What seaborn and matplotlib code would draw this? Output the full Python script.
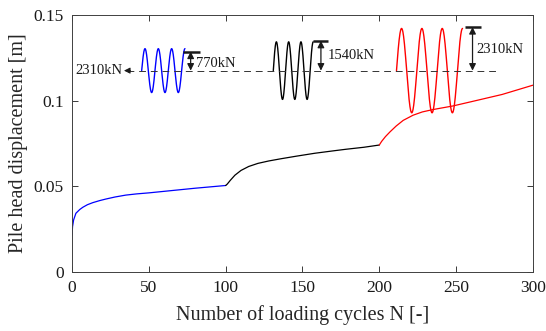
import numpy as np
import pandas as pd
import matplotlib
matplotlib.use("Agg")
import matplotlib.pyplot as plt
import seaborn as sns

# pile head displacement, one list per load stage
blue_N = [0, 0.3, 1, 2.5, 5, 7, 10, 13.5, 18, 22, 28, 35, 42, 50, 60, 70, 80, 90, 100]
blue_y = [0.0216, 0.0265, 0.0304, 0.0343, 0.0365, 0.0378, 0.0393, 0.0405, 0.0417,
          0.0426, 0.0438, 0.0449, 0.0456, 0.0462, 0.0471, 0.0480, 0.0489, 0.0497, 0.0505]

black_N = [100, 101, 103, 106, 110, 115, 121, 128, 136, 146, 158, 170, 178, 190, 200]
black_y = [0.0505, 0.0513, 0.0535, 0.0565, 0.0593, 0.0616, 0.0634, 0.0648, 0.0661,
           0.0676, 0.0693, 0.0707, 0.0716, 0.0728, 0.0741]

red_N = [200, 201.5, 204, 207, 211, 215.6, 222, 228, 235, 248, 260, 280, 300]
red_y = [0.0741, 0.0762, 0.0790, 0.0818, 0.0852, 0.0885, 0.0915, 0.0934, 0.0948,
         0.0969, 0.0994, 0.1036, 0.1090]

stage_names = ["770kN", "1540kN", "2310kN"]
stage_colors = ["#0000ff", "#000000", "#ff0000"]

# schematic load signals (start N, end N, amplitude) drawn above the curves
wave_start = [45.3, 131.0, 211.2]
wave_end = [73.5, 157.0, 254.2]
wave_amp = [0.0128, 0.0168, 0.0246]
mean_load = 0.1175

# amplitude markers: bar ends, arrow x, bar height, label x, label y
bar_x0 = [72.2, 156.8, 255.7]
bar_x1 = [83.3, 166.6, 266.1]
arrow_x = [77.2, 162.0, 260.7]
bar_y = [0.1286, 0.1349, 0.1429]
amp_label_x = [80.5, 166.3, 263.3]
amp_label_y = [0.1218, 0.1261, 0.1296]

df = pd.concat([
    pd.DataFrame({"N": n, "disp": d, "stage": s})
    for n, d, s in zip([blue_N, black_N, red_N], [blue_y, black_y, red_y], stage_names)
])

sns.set_theme(style="ticks")
plt.rcParams['font.family'] = ['Liberation Serif', 'DejaVu Serif']

fig = plt.figure(figsize=(5.46, 3.31), dpi=100)
ax = fig.add_axes([0.132, 0.178, 0.844, 0.777])

sns.lineplot(data=df, x="N", y="disp", hue="stage", palette=stage_colors,
             hue_order=stage_names, estimator=None, sort=False,
             legend=False, lw=0.9, ax=ax)

for i in range(3):
    xs = np.linspace(wave_start[i], wave_end[i], 300)
    ph = 2 * np.pi * 3.25 * (xs - wave_start[i]) / (wave_end[i] - wave_start[i])
    ax.plot(xs, mean_load + wave_amp[i] * np.sin(ph), color=stage_colors[i], lw=1.0)
    ax.plot([bar_x0[i], bar_x1[i]], [bar_y[i], bar_y[i]], color="k", lw=1.8,
            solid_capstyle="butt")
    ax.annotate("", xy=(arrow_x[i], bar_y[i]), xytext=(arrow_x[i], mean_load),
                arrowprops=dict(arrowstyle="<|-|>", color="k", lw=0.9,
                                mutation_scale=10, shrinkA=0, shrinkB=0))
    ax.text(amp_label_x[i], amp_label_y[i], stage_names[i], fontsize=10.5,
            ha="left", va="center", color="k")

# mean load line with arrow to the label
ax.plot([36.0, 276.5], [mean_load, mean_load], color="#333333", lw=0.7, dashes=(7, 5))
ax.annotate("", xy=(33.8, mean_load), xytext=(38.0, mean_load),
            arrowprops=dict(arrowstyle="-|>", color="k", lw=0.7,
                            mutation_scale=9, shrinkA=0, shrinkB=0))
ax.text(32.8, mean_load, "2310kN", fontsize=10.5, ha="right", va="center", color="k")

ax.set_xlim(0, 300)
ax.set_ylim(0, 0.15)
ax.set_xticks([0, 50, 100, 150, 200, 250, 300])
ax.set_yticks([0, 0.05, 0.1, 0.15])
ax.set_yticklabels(["0", "0.05", "0.1", "0.15"])
ax.tick_params(direction="in", top=True, right=True, length=4, width=0.6,
               labelsize=12.5, pad=6, colors="k")
for sp in ax.spines.values():
    sp.set_linewidth(0.7)
    sp.set_color("#404040")

ax.set_xlabel("Number of loading cycles N [-]", fontsize=14.5, labelpad=6)
ax.set_ylabel("Pile head displacement [m]", fontsize=14.5, labelpad=4)

fig.savefig("out.png", dpi=100)
